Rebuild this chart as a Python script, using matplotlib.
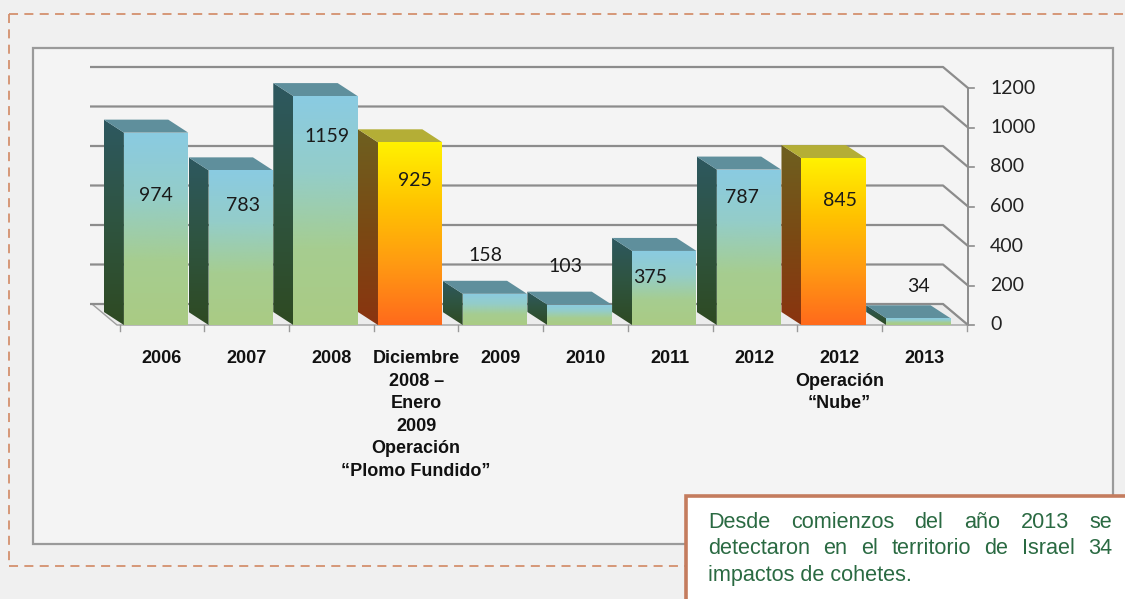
import matplotlib
matplotlib.use("Agg")
import matplotlib.pyplot as plt
import numpy as np
from matplotlib.patches import Polygon, Rectangle
from matplotlib.colors import LinearSegmentedColormap
from matplotlib.lines import Line2D

# ---------------- data ----------------
categories = ["2006", "2007", "2008",
              "Diciembre\n2008 \u2013\nEnero\n2009\nOperación\n\u201cPlomo Fundido\u201d",
              "2009", "2010", "2011", "2012", "2012\nOperación\n\u201cNube\u201d", "2013"]
values = [974, 783, 1159, 925, 158, 103, 375, 787, 845, 34]
is_operation = [False, False, False, True, False, False, False, False, True, False]
y_ticks = [0, 200, 400, 600, 800, 1000, 1200]
note_lines = ["Desde comienzos del año 2013 se",
              "detectaron en el territorio de Israel 34",
              "impactos de cohetes."]

# label offsets (px) relative to bar top centre: (dx, dy)  -- layout only
label_offsets = [(0, 63), (2, 35), (2, 40), (5, 38), (-9, -38),
                 (-14, -38), (-14, 27), (-7, 28), (6, 42), (0, -32)]

W, H = 1125, 599
fig = plt.figure(figsize=(W / 100, H / 100), dpi=100)
fig.patch.set_facecolor("#f0f0f0")

# inner chart frame
frame = Rectangle((33 / W, 1 - 544 / H), (1113 - 33) / W, (544 - 48) / H,
                  transform=fig.transFigure, facecolor="#f4f4f4",
                  edgecolor="#9a9a9a", lw=1.6, zorder=-2)
fig.patches.append(frame)

# dashed outer border
dash_col = "#d4906e"
for xs, ys in [([9, 9], [14, 566]), ([9, 1125], [14, 14]), ([9, 686], [566, 566])]:
    fig.add_artist(Line2D([x / W for x in xs], [1 - y / H for y in ys],
                          transform=fig.transFigure, color=dash_col, lw=1.3,
                          linestyle=(0, (5, 3.5)), zorder=-1))

# axes geometry: x px = 162 + 84.7*x, y px = 325 - 0.1975*v
px_per_x = 84.7
px_per_y = 0.1975
x0_px, y0_px = 162, 325
xlim = (-0.85, 9.6)
ylim = (-40, 1330)
left = x0_px + xlim[0] * px_per_x
right = x0_px + xlim[1] * px_per_x
bottom = y0_px - ylim[0] * px_per_y
top = y0_px - ylim[1] * px_per_y
ax = fig.add_axes([left / W, 1 - bottom / H, (right - left) / W, (bottom - top) / H])
ax.set_zorder(2)
ax.patch.set_visible(False)
ax.set_xlim(*xlim)
ax.set_ylim(*ylim)
ax.axis("off")

# 3D depth parameters
wall_dx = -25 / px_per_x
wall_dy = 21 / px_per_y
bar_dx = -20 / px_per_x
bar_dy = 13 / px_per_y
axis_x = (968 - x0_px) / px_per_x
wall_left = (90 - x0_px) / px_per_x

# floor
floor_left = (117 - x0_px) / px_per_x
floor = Polygon([(floor_left, 0), (axis_x, 0), (axis_x + wall_dx, wall_dy),
                 (floor_left + wall_dx, wall_dy)], closed=True,
                facecolor="#ececec", edgecolor="#a0a0a0", lw=1.0, zorder=1)
ax.add_patch(floor)

# back-wall gridlines with diagonal to front axis
for v in y_ticks:
    ax.plot([wall_left, axis_x + wall_dx, axis_x], [v + wall_dy, v + wall_dy, v],
            color="#8c8c8c", lw=1.6, zorder=1, solid_capstyle="butt")
# front axis
ax.plot([axis_x, axis_x], [0, y_ticks[-1]], color="#8c8c8c", lw=1.4, zorder=5)
for v in y_ticks:
    ax.plot([axis_x, axis_x + 6 / px_per_x], [v, v], color="#8c8c8c", lw=1.2, zorder=5)
    ax.text(axis_x + 22 / px_per_x, v, str(v), ha="left", va="center",
            fontsize=14, family="Lato", color="#222222")
# bottom category ticks
for i in range(len(values) + 1):
    xt = i - 0.5
    ax.plot([xt, xt], [0, -6 / px_per_y], color="#9a9a9a", lw=1.0, zorder=5)

# gradient helpers
cm_blue_front = LinearSegmentedColormap.from_list("bf", ["#8acbe2", "#94cdc9", "#a6cd90", "#aacb84"])
cm_blue_side = LinearSegmentedColormap.from_list("bs", ["#2d5860", "#2f5440", "#2e4a22"])
cm_or_front = LinearSegmentedColormap.from_list("of", ["#fff200", "#ffc400", "#ff9a12", "#ff6a1c"])
cm_or_side = LinearSegmentedColormap.from_list("os", ["#6e6020", "#7a4a14", "#8a3410"])
grad = np.linspace(0, 1, 256).reshape(-1, 1)


def grad_patch(poly_pts, cmap, y_lo, y_hi, z):
    poly = Polygon(poly_pts, closed=True, facecolor="none", edgecolor="none", zorder=z)
    ax.add_patch(poly)
    xs = [p[0] for p in poly_pts]
    im = ax.imshow(grad, cmap=cmap, aspect="auto", origin="upper",
                   extent=(min(xs), max(xs), y_lo, y_hi), zorder=z, interpolation="bilinear")
    im.set_clip_path(poly)


half_l, half_r = 0.45, 0.31
for i, v in enumerate(values):
    op = is_operation[i]
    x0 = i - half_l
    x1 = i + half_r
    z = 2 + i * 0.1
    # side face
    side = [(x0, 0), (x0, v), (x0 + bar_dx, v + bar_dy), (x0 + bar_dx, bar_dy)]
    grad_patch(side, cm_or_side if op else cm_blue_side, 0, v + bar_dy, z)
    # top face
    topf = Polygon([(x0, v), (x1, v), (x1 + bar_dx, v + bar_dy), (x0 + bar_dx, v + bar_dy)],
                   closed=True, facecolor="#b4ae36" if op else "#5f8f9c",
                   edgecolor="none", zorder=z)
    ax.add_patch(topf)
    # front face
    front = [(x0, 0), (x1, 0), (x1, v), (x0, v)]
    grad_patch(front, cm_or_front if op else cm_blue_front, 0, max(v, 1), z + 0.01)
    # value label
    dx, dy = label_offsets[i]
    ax.annotate(str(v), xy=((x0 + x1) / 2, v), xytext=(dx * 0.72, -dy * 0.72),
                textcoords="offset points", ha="center", va="center",
                fontsize=14, family="Lato", color="#1a1a1a", zorder=10)

# restore limits (imshow may change them)
ax.set_xlim(*xlim)
ax.set_ylim(*ylim)

# category labels (one text per line, line height 22.6 px)
line_h = 22.6
for i, lab in enumerate(categories):
    for j, part in enumerate(lab.split("\n")):
        ax.annotate(part, xy=(i, 0), xytext=(0, -(25 + j * line_h) * 0.72),
                    textcoords="offset points", ha="center", va="top",
                    fontsize=13, fontweight="bold", family="Liberation Sans",
                    color="#111111")

# note box
box = Rectangle((686 / W, 1 - 640 / H), 500 / W, (640 - 496) / H,
                transform=fig.transFigure, facecolor="white",
                edgecolor="#c47c5e", lw=2.6, zorder=20)
fig.patches.append(box)

# justified note text
fig.canvas.draw()
renderer = fig.canvas.get_renderer()
tx_left, tx_right = 708, 1112
line_y = [522, 549, 576]
fs = 15.6
for li, line in enumerate(note_lines):
    yy = 1 - line_y[li] / H
    words = line.split(" ")
    if li == len(note_lines) - 1:
        fig.text(tx_left / W, yy, line, ha="left", va="center", fontsize=fs,
                 family="Liberation Sans", color="#2a6a42", zorder=21)
        continue
    widths = []
    for w in words:
        t = fig.text(0, 0, w, fontsize=fs, family="Liberation Sans")
        widths.append(t.get_window_extent(renderer).width)
        t.remove()
    gap = (tx_right - tx_left - sum(widths)) / (len(words) - 1)
    xpos = tx_left
    for w, wd in zip(words, widths):
        fig.text(xpos / W, yy, w, ha="left", va="center", fontsize=fs,
                 family="Liberation Sans", color="#2a6a42", zorder=21)
        xpos += wd + gap

fig.savefig("out.png", dpi=100, facecolor=fig.get_facecolor())
